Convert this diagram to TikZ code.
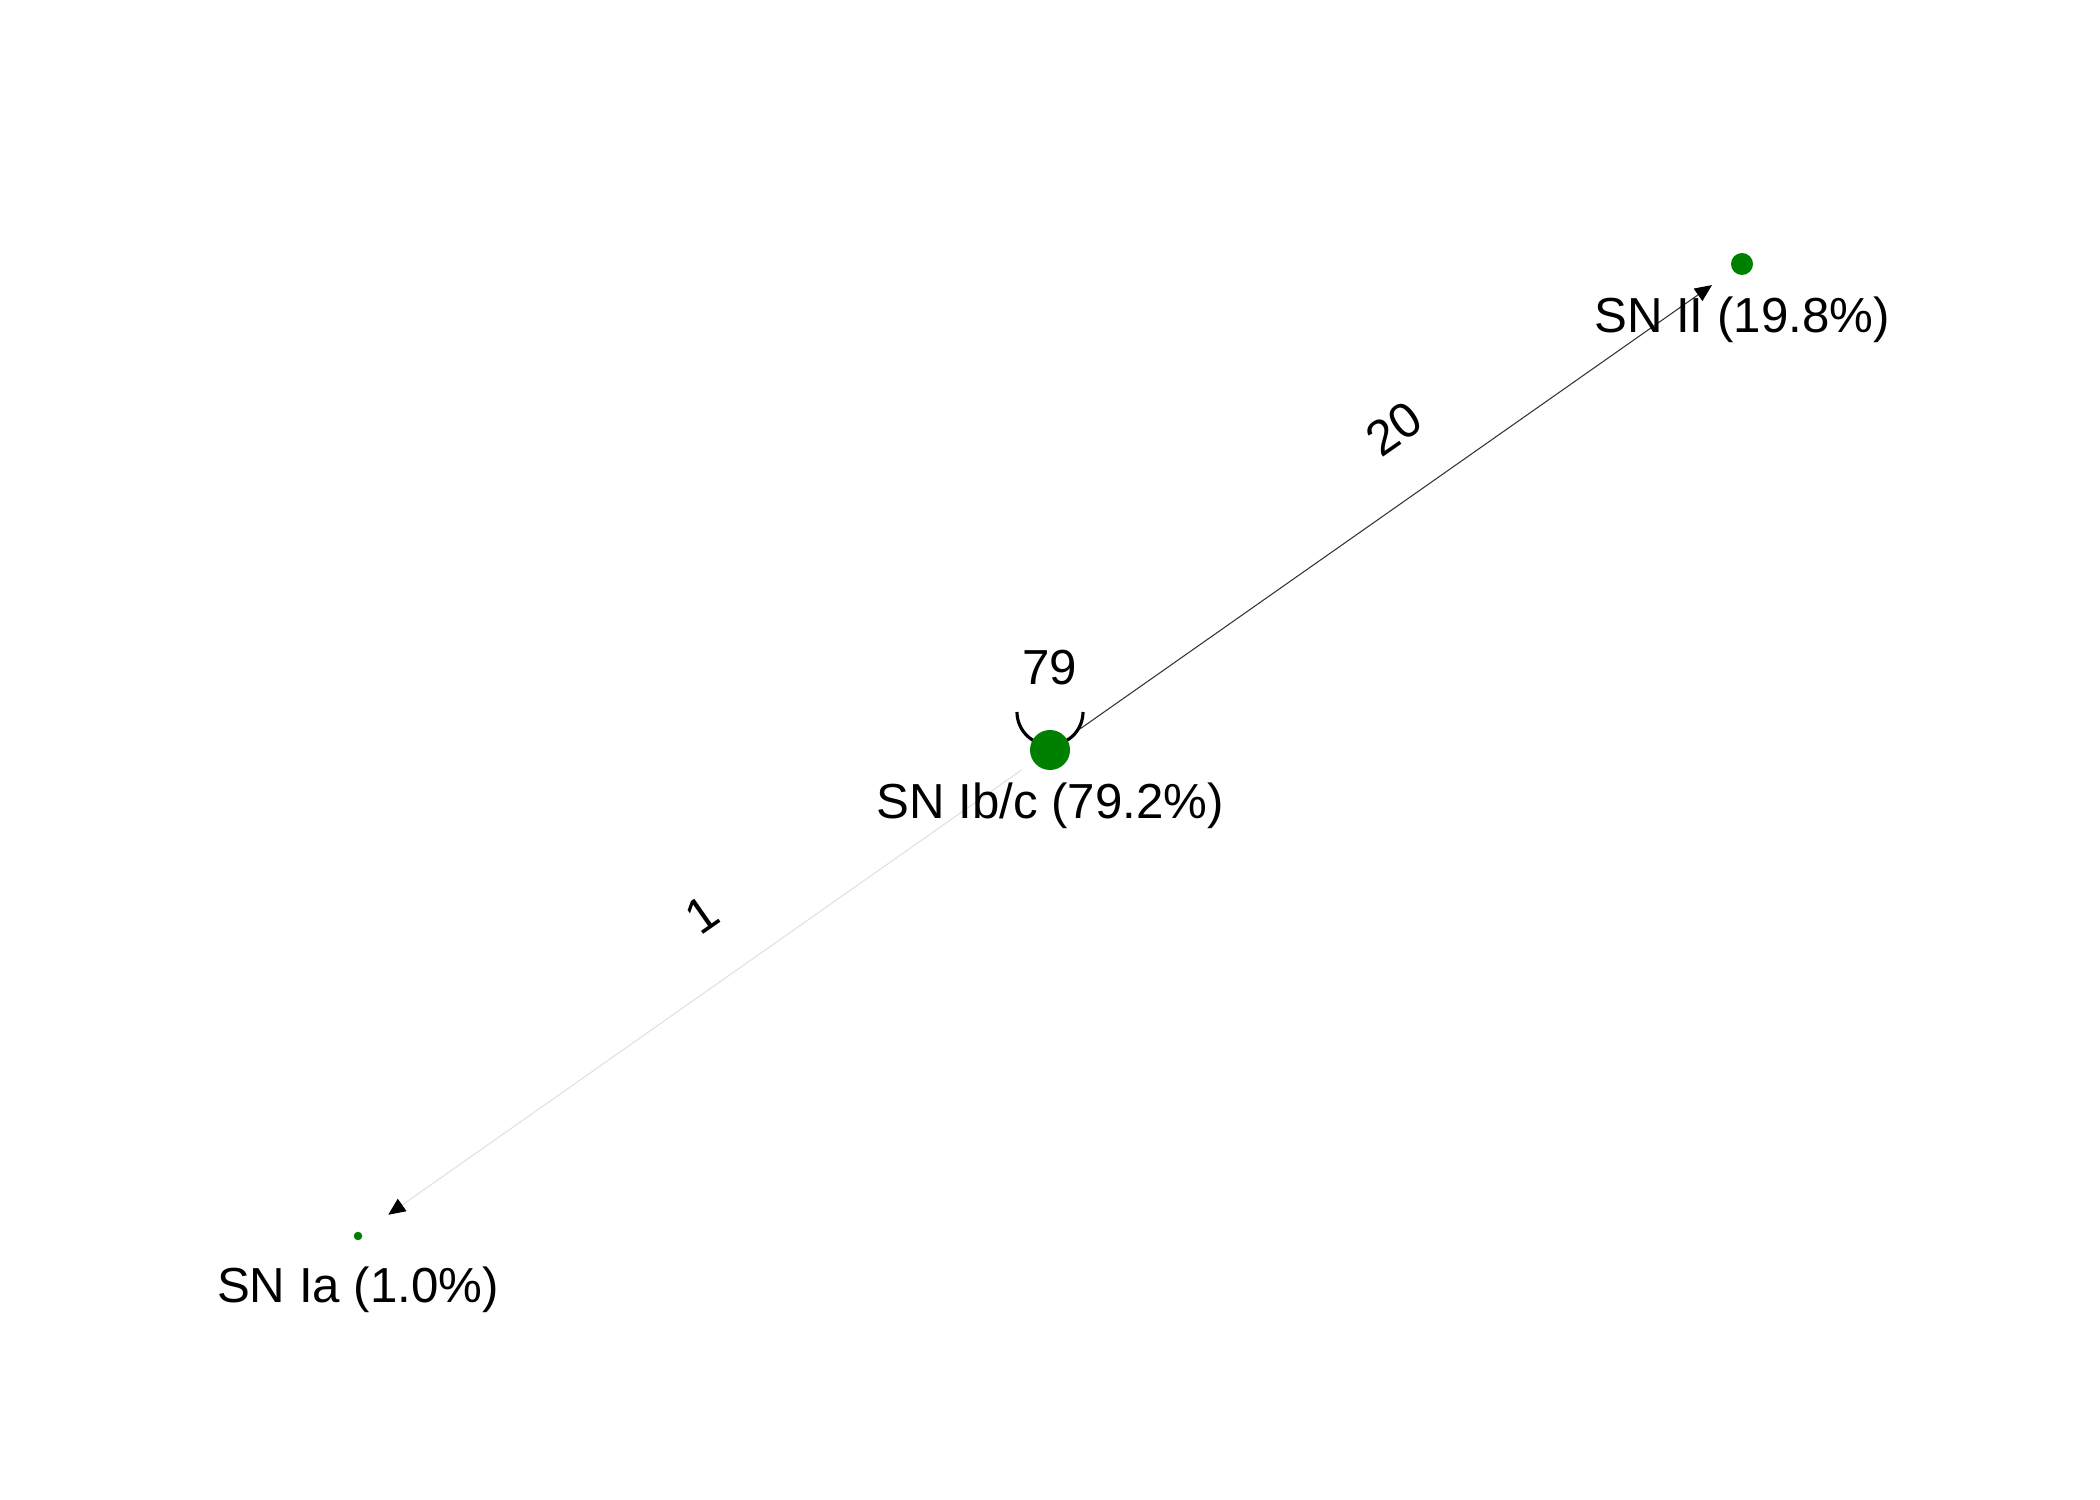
\documentclass[tikz,border=0pt]{standalone}
\usepackage{fontspec}
\setmainfont{Liberation Sans}
\usetikzlibrary{arrows.meta,calc}
\definecolor{nodegreen}{RGB}{0,128,0}
\definecolor{faintgray}{RGB}{225,225,225}
\begin{document}
\begin{tikzpicture}[
  vertex/.style={circle,fill=nodegreen,draw=none,inner sep=0pt},
  lab/.style={font=\fontsize{14pt}{16pt}\selectfont,anchor=base,inner sep=0pt},
  elab/.style={font=\fontsize{14pt}{16pt}\selectfont,rotate=35,inner sep=0pt},
  tip/.style={-{Triangle[length=0.17cm,width=0.15cm,color=black]}},
  edgedark/.style={tip,draw=black!80,line width=0.3pt},
  edgefaint/.style={tip,draw=faintgray,line width=0.3pt},
  loopline/.style={draw=black,line width=0.9pt}
]
\useasboundingbox (0,0) rectangle (21,15);
\fill[white] (0,0) rectangle (21,15);

\coordinate (ibcpos) at (10.50,7.50);
% self loop (drawn behind node)
\draw[loopline] ([shift={(-0.33,0.38)}]ibcpos) arc[start angle=180,end angle=360,radius=0.33];

\node[vertex,minimum size=0.40cm] (ibc) at (ibcpos) {};
\node[vertex,minimum size=0.22cm] (ii) at (17.42,12.36) {};
\node[vertex,minimum size=0.085cm] (ia) at (3.58,2.64) {};

\draw[edgedark,shorten <=0.16cm,shorten >=0.25cm] (ibc) -- (ii);
\draw[edgefaint,shorten <=0.14cm,shorten >=0.32cm] (ibc) -- (ia);

\node[lab] (ibclab) at ([yshift=-0.69cm]ibc.center) {SN Ib/c (79.2\%)};
\node[lab] (iilab) at ([yshift=-0.69cm]ii.center) {SN II (19.8\%)};
\node[lab] (ialab) at ([yshift=-0.67cm]ia.center) {SN Ia (1.0\%)};

\node[lab] (looplab) at ([yshift=0.65cm]ibc.center) {79};
\node[elab] (lab20) at ($(ibc)!0.5!(ii)+(-0.02,0.785)$) {20};
\node[elab] (lab1) at ($(ibc)!0.5!(ia)+(-0.02,0.785)$) {1};
\end{tikzpicture}
\end{document}
